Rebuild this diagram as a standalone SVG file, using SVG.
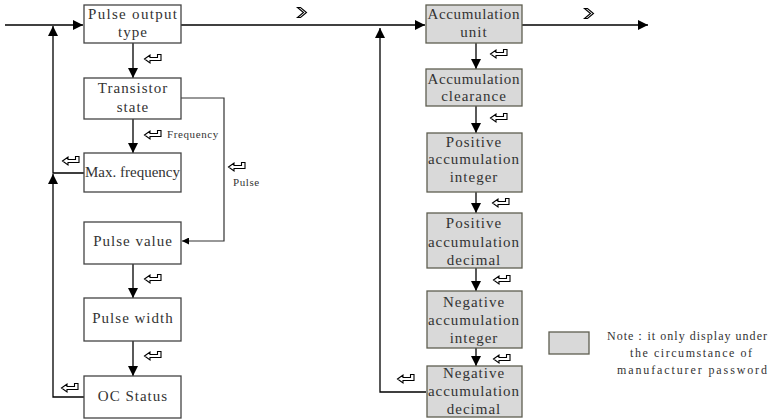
<svg xmlns="http://www.w3.org/2000/svg" width="778" height="420" viewBox="0 0 778 420">
<style>
.bx{fill:#fff;stroke:#444;stroke-width:1.3}
.gx{fill:#d9d9d9;stroke:#5e5e50;stroke-width:1.3}
.t{font-family:"Liberation Serif",serif;font-size:15px;fill:#333;text-anchor:middle;letter-spacing:1px}
.s{font-family:"Liberation Serif",serif;font-size:11px;fill:#333;letter-spacing:0.6px}
.n{font-family:"Liberation Serif",serif;font-size:12px;fill:#333}
.c{fill:none;stroke:#000;stroke-width:1.3}
.c2{fill:none;stroke:#333;stroke-width:1.2}
.ic{fill:#fff;stroke:#000;stroke-width:1.1;stroke-linejoin:miter}
</style>
<defs>
<marker id="ah" viewBox="0 0 10 10" refX="10" refY="5" markerWidth="10" markerHeight="10" markerUnits="userSpaceOnUse" orient="auto"><path d="M0,0 L10,5 L0,10 Z" fill="#000"/></marker>
<marker id="as" viewBox="0 0 10 10" refX="10" refY="5" markerWidth="7" markerHeight="7" markerUnits="userSpaceOnUse" orient="auto"><path d="M0,0 L10,5 L0,10 Z" fill="#000"/></marker>
<path id="ent" d="M0.5,5 L6,1 L6,3.5 L13.5,3.5 L13.5,0.5 L17,0.5 L17,6.5 L6,6.5 L6,9 Z"/>
<path id="chv" d="M0.5,0.5 L3.5,0.5 L9.5,5.5 L3.5,10.5 L0.5,10.5 L6.5,5.5 Z"/>
</defs>

<g id="connectors">
<path class="c" d="M5,25 H83" marker-end="url(#ah)"/>
<path class="c" d="M181,25 H425" marker-end="url(#ah)"/>
<path class="c" d="M522,25 H648" marker-end="url(#ah)"/>
<path class="c" d="M133,43 V78" marker-end="url(#ah)"/>
<path class="c" d="M133,119 V153" marker-end="url(#ah)"/>
<path class="c" d="M133,264 V298" marker-end="url(#ah)"/>
<path class="c" d="M133,341 V376" marker-end="url(#ah)"/>
<path class="c2" d="M181,98 H224 V241 H182" marker-end="url(#as)"/>
<path class="c" d="M84,397 H53 V174" marker-end="url(#ah)"/>
<path class="c" d="M84,173 H53 V26" marker-end="url(#ah)"/>
<path class="c" d="M476,43 V69" marker-end="url(#ah)"/>
<path class="c" d="M476,106 V133" marker-end="url(#ah)"/>
<path class="c" d="M476,192 V213" marker-end="url(#ah)"/>
<path class="c" d="M476,268 V291" marker-end="url(#ah)"/>
<path class="c" d="M476,348 V366" marker-end="url(#ah)"/>
<path class="c" d="M426,392 H380 V28" marker-end="url(#ah)"/>
<use href="#chv" class="ic" x="297" y="7"/>
<use href="#chv" class="ic" x="584" y="8"/>
<use href="#ent" class="ic" x="144" y="54"/>
<use href="#ent" class="ic" x="144" y="130"/>
<use href="#ent" class="ic" x="62" y="156"/>
<use href="#ent" class="ic" x="228" y="162"/>
<use href="#ent" class="ic" x="144" y="274"/>
<use href="#ent" class="ic" x="144" y="351"/>
<use href="#ent" class="ic" x="61" y="383"/>
<use href="#ent" class="ic" x="490" y="49"/>
<use href="#ent" class="ic" x="490" y="113"/>
<use href="#ent" class="ic" x="492" y="198"/>
<use href="#ent" class="ic" x="493" y="275"/>
<use href="#ent" class="ic" x="493" y="354"/>
<use href="#ent" class="ic" x="397" y="374"/>
<text class="s" x="167" y="138">Frequency</text>
<text class="s" x="233" y="186">Pulse</text>
</g>

<g id="pulse-output-type"><rect class="bx" x="84" y="5" width="97" height="38"/><text class="t" x="133" y="19" textLength="90" lengthAdjust="spacing">Pulse output</text><text class="t" x="133" y="37">type</text></g>
<g id="transistor-state"><rect class="bx" x="84" y="78" width="97" height="41"/><text class="t" x="133" y="93">Transistor</text><text class="t" x="133" y="112">state</text></g>
<g id="max-frequency"><rect class="bx" x="84" y="153" width="97" height="39"/><text class="t" x="133" y="177" textLength="96" lengthAdjust="spacing">Max. frequency</text></g>
<g id="pulse-value"><rect class="bx" x="84" y="222" width="97" height="42"/><text class="t" x="133" y="246">Pulse value</text></g>
<g id="pulse-width"><rect class="bx" x="84" y="298" width="97" height="43"/><text class="t" x="133" y="323">Pulse width</text></g>
<g id="oc-status"><rect class="bx" x="84" y="376" width="97" height="42"/><text class="t" x="133" y="401">OC Status</text></g>

<g id="accumulation-unit"><rect class="gx" x="426" y="5" width="96" height="38"/><text class="t" x="474" y="19" textLength="93" lengthAdjust="spacing">Accumulation</text><text class="t" x="474" y="37">unit</text></g>
<g id="accumulation-clearance"><rect class="gx" x="426" y="69" width="96" height="37"/><text class="t" x="474" y="84" textLength="93" lengthAdjust="spacing">Accumulation</text><text class="t" x="474" y="101">clearance</text></g>
<g id="positive-accumulation-integer"><rect class="gx" x="427" y="133" width="95" height="59"/><text class="t" x="474" y="147">Positive</text><text class="t" x="474" y="164" textLength="92" lengthAdjust="spacing">accumulation</text><text class="t" x="474" y="182">integer</text></g>
<g id="positive-accumulation-decimal"><rect class="gx" x="427" y="213" width="95" height="55"/><text class="t" x="474" y="228">Positive</text><text class="t" x="474" y="247" textLength="92" lengthAdjust="spacing">accumulation</text><text class="t" x="474" y="265">decimal</text></g>
<g id="negative-accumulation-integer"><rect class="gx" x="427" y="291" width="95" height="57"/><text class="t" x="474" y="307">Negative</text><text class="t" x="474" y="325" textLength="92" lengthAdjust="spacing">accumulation</text><text class="t" x="474" y="343">integer</text></g>
<g id="negative-accumulation-decimal"><rect class="gx" x="427" y="366" width="95" height="51"/><text class="t" x="474" y="378">Negative</text><text class="t" x="474" y="396" textLength="92" lengthAdjust="spacing">accumulation</text><text class="t" x="474" y="414">decimal</text></g>

<g id="legend">
<rect class="gx" x="549" y="332" width="40" height="22"/>
<text class="n" x="607" y="340" textLength="160" lengthAdjust="spacing">Note：it only display under</text>
<text class="n" x="630" y="357" textLength="122" lengthAdjust="spacing">the circumstance of</text>
<text class="n" x="617" y="374" textLength="150" lengthAdjust="spacing">manufacturer password</text>
</g>
</svg>
